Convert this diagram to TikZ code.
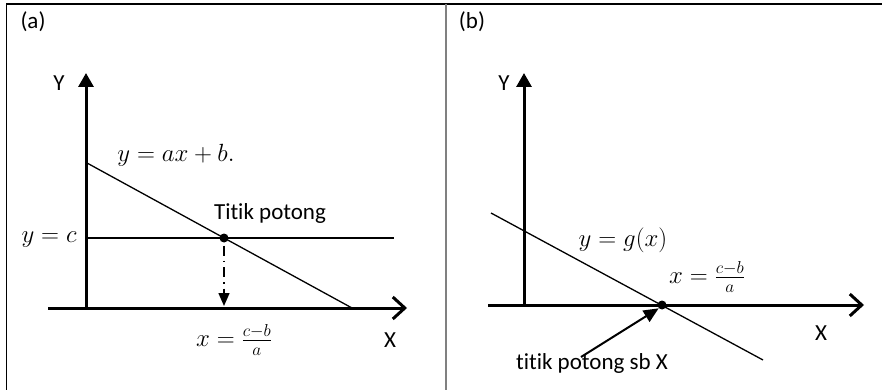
\documentclass[tikz,border=0pt]{standalone}
\usepackage[no-math]{fontspec}
\setmainfont[RawFeature=-liga]{Carlito}
\usetikzlibrary{arrows.meta}
\tikzset{
  lbl/.style={inner sep=0pt, font=\fontsize{23}{26}\selectfont},
  mth/.style={inner sep=0pt, font=\fontsize{26}{30}\selectfont},
  axis/.style={line width=3pt},
  yarr/.style={-{Triangle[width=15pt,length=14pt]}},
  xarr/.style={-{Straight Barb[width=22pt,length=12pt,line width=3pt]}},
  thin line/.style={line width=1.3pt},
  dotpt/.style={circle, fill=black, inner sep=0pt, minimum size=9pt},
}
\begin{document}
\begin{tikzpicture}[x=1pt,y=-1pt]
\useasboundingbox (0,0) rectangle (882,390);
% frame
\draw[line width=1.5pt] (6.5,390) -- (6.5,4) -- (882,4);
\draw[line width=2pt, color=black!50] (446,4) -- (446,390);

% ---------- panel (a)
\node[lbl] (tA) at (33,22) {(a)};
\coordinate (oA) at (86,308);
\coordinate (yA) at (86,73);
\coordinate (xsA) at (48,308);
\coordinate (xeA) at (407,308);
\draw[axis,yarr] (oA) -- (yA);
\draw[axis,xarr] (xsA) -- (xeA);
\node[lbl] (YA) at (59,83) {Y};
\node[lbl] (XA) at (390,340) {X};
\coordinate (l1s) at (87,163);
\coordinate (l1e) at (352,308);
\coordinate (hs) at (87,238);
\coordinate (he) at (394,238);
\draw[thin line] (l1s) -- (l1e);
\draw[thin line] (hs) -- (he);
\node[dotpt] (pA) at (224,238) {};
\coordinate (pAx) at (224,306);
\draw[line width=1.5pt, dash pattern=on 10pt off 5pt on 1.5pt off 5pt,
      -{Triangle[width=11pt,length=13pt]}] (pA.south) ++(0,3) -- (pAx);
\node[mth] (yc) at (49,240) {$y=c$};
\node[mth] (eqA) at (176,155) {$y=ax+b.$};
\node[lbl] (tp) at (270,213) {Titik potong};
\node[mth] (xA) at (234,340) {$x=\frac{c-b}{a}$};

% ---------- panel (b)
\node[lbl] (tB) at (472,22) {(b)};
\coordinate (oB) at (524,305);
\coordinate (yB) at (524,73);
\coordinate (xsB) at (488,305);
\coordinate (xeB) at (864,305);
\draw[axis,yarr] (oB) -- (yB);
\draw[axis,xarr] (xsB) -- (xeB);
\node[lbl] (YB) at (504,83) {Y};
\node[lbl] (XB) at (821,333) {X};
\coordinate (gs) at (491,213);
\coordinate (ge) at (763,360);
\draw[thin line] (gs) -- (ge);
\node[dotpt] (pB) at (662,305) {};
\node[mth] (eqB) at (623,240) {$y=g(x)$};
\node[mth] (xB) at (707,277) {$x=\frac{c-b}{a}$};
\node[lbl] (tsb) at (592,363) {titik potong sb X};
\coordinate (arrS) at (581,357);
\draw[line width=2pt,-{Triangle[width=13pt,length=15pt]}] (arrS) -- (pB.south west);
\end{tikzpicture}
\end{document}
